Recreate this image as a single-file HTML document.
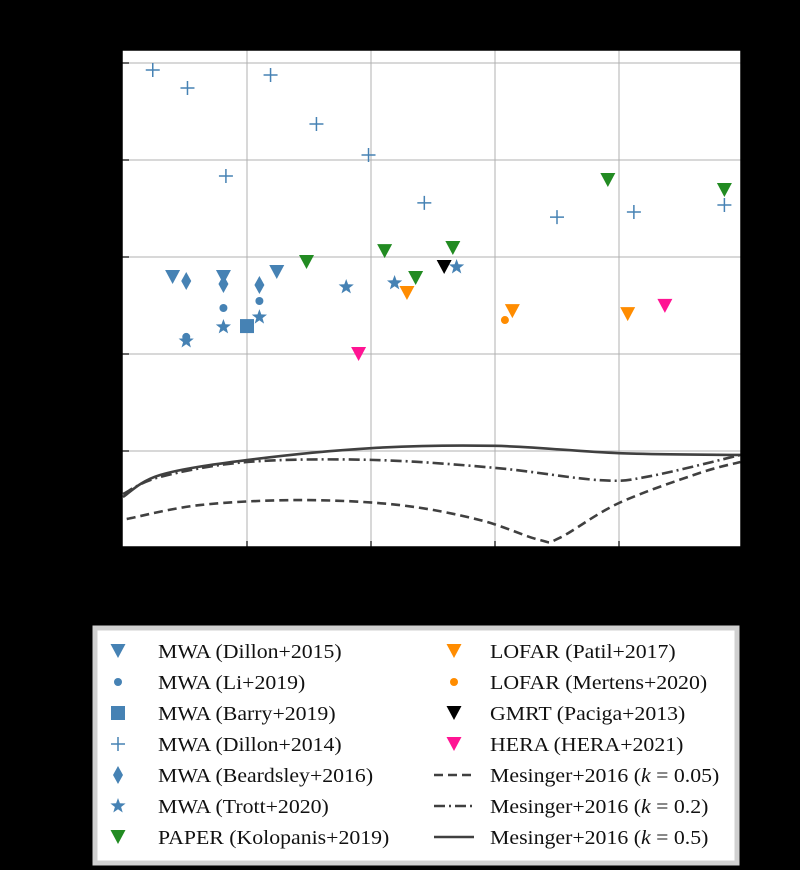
<!DOCTYPE html>
<html><head><meta charset="utf-8"><style>
html,body{margin:0;padding:0;background:#000;}
svg{display:block}
text{font-family:"Liberation Serif",serif;}
</style></head><body>
<svg id="chart" width="800" height="870" viewBox="0 0 800 870">
<rect x="0" y="0" width="800" height="870" fill="#000"/>
<rect x="122" y="50" width="619" height="497" fill="#fff"/>
<g id="grid"></g>
<g id="curves"></g>
<g id="marks"></g>
<rect x="122" y="50" width="619" height="497" fill="none" stroke="#000" stroke-width="1.5"/>
<g id="legend">
<rect x="95" y="628" width="642" height="235" fill="#fff" stroke="#d0d0d0" stroke-width="5"/>
</g>
</svg>
<script>
// ---- data ----
const xTicks=[7,8,9,10];
const yTicks=[10,100,1000,10000,100000];
const dillon15Z=[6.40,6.81,7.24];           const dillon15V=[622,622,700];
const li19Z=[6.51,6.81,7.10];               const li19V=[150,298,352];
const barry19Z=[7.0];                       const barry19V=[194];
const dillon14Z=[6.24,6.52,7.19,6.83,7.56,7.98,8.43,9.50,10.12,10.85];
const dillon14V=[84700,55200,75200,6840,23500,11270,3610,2580,2910,3440];
const beard16Z=[6.51,6.81,7.10];            const beard16V=[566,527,514];
const trott20Z=[6.51,6.81,7.10,7.80,8.19,8.69]; const trott20V=[136,190,240,491,540,789];
const paperZ=[7.48,8.11,8.36,8.66,9.91,10.85]; const paperV=[887,1150,608,1240,6220,4910];
const patilZ=[8.29,9.14,10.07];             const patilV=[425,277,258];
const mertensZ=[9.08];                      const mertensV=[224];
const gmrtZ=[8.59];                         const gmrtV=[789];
const heraZ=[7.90,10.37];                   const heraV=[100,313];
const k05Z=[6.0,6.3,7.0,8.0,9.0,10.0,10.98]; const k05V=[3.36,5.66,8.07,10.7,11.3,9.5,9.1];
const k02Z=[6.0,6.3,7.0,8.0,9.0,9.85,10.25,10.98]; const k02V=[3.6,5.4,7.7,8.1,6.7,5.0,5.5,9.1];
const k005Z=[6.03,6.62,7.43,8.23,8.88,9.36,9.52,10.0,10.65,10.98]; const k005V=[1.99,2.77,3.12,2.77,1.94,1.21,1.27,2.91,5.93,7.7];

const NS='http://www.w3.org/2000/svg';
function xs(z){return 123+124*(z-6);}
function ys(v){return 451-97*(Math.log10(v)-1);}
function mk(tag,attrs,parent){const e=document.createElementNS(NS,tag);for(const k in attrs)e.setAttribute(k,attrs[k]);parent.appendChild(e);return e;}

const grid=document.getElementById('grid');
xTicks.forEach(t=>{const x=xs(t);
 const l=mk('line',{x1:x,x2:x,y1:50,y2:547,stroke:'#b0b0b0','stroke-width':1},grid);
 
 
 const tk=mk('line',{x1:x,x2:x,y1:547,y2:541,stroke:'#000','stroke-width':1.2},grid);
 
 
});
yTicks.forEach(t=>{const y=ys(t);
 const l=mk('line',{x1:122,x2:741,y1:y,y2:y,stroke:'#b0b0b0','stroke-width':1},grid);
 
 
 const tk=mk('line',{x1:122,x2:129,y1:y,y2:y,stroke:'#000','stroke-width':1.2},grid);
 
 
});

function smoothPath(pts){
 let d='M'+pts[0][0]+','+pts[0][1];
 for(let i=0;i<pts.length-1;i++){
  const p0=pts[Math.max(0,i-1)],p1=pts[i],p2=pts[i+1],p3=pts[Math.min(pts.length-1,i+2)];
  const c1=[p1[0]+(p2[0]-p0[0])/6,p1[1]+(p2[1]-p0[1])/6];
  const c2=[p2[0]-(p3[0]-p1[0])/6,p2[1]-(p3[1]-p1[1])/6];
  d+=' C'+c1[0]+','+c1[1]+' '+c2[0]+','+c2[1]+' '+p2[0]+','+p2[1];
 }
 return d;
}
const curves=document.getElementById('curves');
function curve(Z,V,dash,name){
 const pts=Z.map((z,i)=>[xs(z),ys(V[i])]);
 const p=mk('path',{d:smoothPath(pts),fill:'none',stroke:'#404040','stroke-width':2.6,'stroke-dasharray':dash},curves);
 
 
}
const clip=mk('clipPath',{id:'pc'},document.getElementById('chart'));
mk('rect',{x:122,y:50,width:619,height:497},clip);
curves.setAttribute('clip-path','url(#pc)');
curve(k005Z,k005V,'9,5','mesinger-k005-line');
curve(k02Z,k02V,'11,4,2,4','mesinger-k02-line');
curve(k05Z,k05V,'none','mesinger-k05-line');

function drawMarker(parent,shape,x,y,color,s){
 let e;
 if(shape==='tri'){e=mk('polygon',{points:`${x-7.5},${y-7} ${x+7.5},${y-7} ${x},${y+7}`,fill:color},parent);}
 else if(shape==='dot'){e=mk('circle',{cx:x,cy:y,r:4,fill:color},parent);}
 else if(shape==='sq'){e=mk('rect',{x:x-7,y:y-7,width:14,height:14,fill:color},parent);}
 else if(shape==='plus'){e=mk('path',{d:`M${x-7},${y}H${x+7}M${x},${y-7}V${y+7}`,stroke:color,'stroke-width':1.5,fill:'none'},parent);}
 else if(shape==='dia'){e=mk('polygon',{points:`${x},${y-9} ${x+5},${y} ${x},${y+9} ${x-5},${y}`,fill:color},parent);}
 else if(shape==='star'){let p=[];for(let i=0;i<10;i++){const r=i%2?3.3:8,a=-Math.PI/2+i*Math.PI/5;p.push((x+r*Math.cos(a)).toFixed(1)+','+(y+r*Math.sin(a)).toFixed(1));}
  e=mk('polygon',{points:p.join(' '),fill:color},parent);}
 return e;
}
const marks=document.getElementById('marks');
const B='#4682b4',G='#228b22',O='#ff8c00',P='#ff1493',K='#000';
function series(Z,V,shape,color,name){
 Z.forEach((z,i)=>{const e=drawMarker(marks,shape,xs(z),ys(V[i]),color);
  
  });
}
series(dillon14Z,dillon14V,'plus',B,'mwa-dillon2014-point');
series(li19Z,li19V,'dot',B,'mwa-li2019-point');
series(barry19Z,barry19V,'sq',B,'mwa-barry2019-point');
series(beard16Z,beard16V,'dia',B,'mwa-beardsley2016-point');
series(dillon15Z,dillon15V,'tri',B,'mwa-dillon2015-point');
series(trott20Z,trott20V,'star',B,'mwa-trott2020-point');
series(paperZ,paperV,'tri',G,'paper-kolopanis2019-point');
series(patilZ,patilV,'tri',O,'lofar-patil2017-point');
series(mertensZ,mertensV,'dot',O,'lofar-mertens2020-point');
series(gmrtZ,gmrtV,'tri',K,'gmrt-paciga2013-point');
series(heraZ,heraV,'tri',P,'hera-2021-point');

// legend
const leg=document.getElementById('legend');
const entries=[
 ['tri',B,'MWA (Dillon+2015)',0,0],['dot',B,'MWA (Li+2019)',0,1],['sq',B,'MWA (Barry+2019)',0,2],
 ['plus',B,'MWA (Dillon+2014)',0,3],['dia',B,'MWA (Beardsley+2016)',0,4],['star',B,'MWA (Trott+2020)',0,5],
 ['tri',G,'PAPER (Kolopanis+2019)',0,6],
 ['tri',O,'LOFAR (Patil+2017)',1,0],['dot',O,'LOFAR (Mertens+2020)',1,1],['tri',K,'GMRT (Paciga+2013)',1,2],
 ['tri',P,'HERA (HERA+2021)',1,3],['line:9,5','','Mesinger+2016 (k = 0.05)',1,4],
 ['line:11,4,2,4','','Mesinger+2016 (k = 0.2)',1,5],['line:none','','Mesinger+2016 (k = 0.5)',1,6]];
entries.forEach(en=>{
 const [shape,color,label,col,row]=en;
 const y=651+31*row;
 const mx=col?454:118, tx=col?490:158;
 const g=mk('g',{},leg);
 
 
 if(shape.startsWith('line')){
  mk('line',{x1:434,x2:474,y1:y,y2:y,stroke:'#404040','stroke-width':2.6,'stroke-dasharray':shape.slice(5)},g);
 } else drawMarker(g,shape,mx,y,color);
 const t=mk('text',{x:tx,y:y+7,'font-size':20,fill:'#111'},g);
 if(label.indexOf('(k')>=0){
  const parts=label.split('k');
  t.appendChild(document.createTextNode(parts[0]));
  const it=mk('tspan',{'font-style':'italic'},t);it.textContent='k';
  t.appendChild(document.createTextNode(parts[1]));
 } else t.textContent=label;
 const w=t.getComputedTextLength();
 if(w>0){t.setAttribute('textLength',(w*1.09).toFixed(1));t.setAttribute('lengthAdjust','spacingAndGlyphs');}
});
</script>
</body></html>
